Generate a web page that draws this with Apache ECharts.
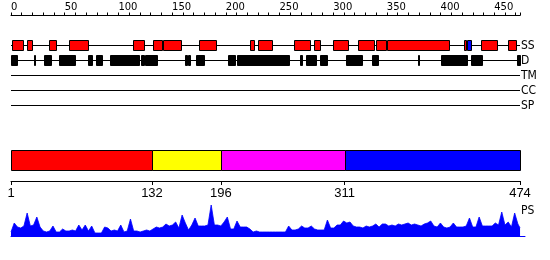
<!DOCTYPE html>
<html><head><meta charset="utf-8">
<script src="https://cdn.jsdelivr.net/npm/echarts@6/dist/echarts.min.js"></script>
<style>html,body{margin:0;padding:0;background:#fff}#c{width:550px;height:260px}</style>
</head><body><div id="c"></div><script>
const seqLength = 474;
const rowNames = ['SS', 'D', 'TM', 'CC', 'SP'];
const helix = [[1,11],[15,20],[35,42],[54,72],[114,124],[132,141],[142,158],[175,191],[223,226],[230,243],[264,278],[282,288],[300,314],[323,338],[340,349],[350,408],[422,424],[438,453],[463,470]];
const strand = [[425,428]];
const disorder = [[0,6],[21,22],[31,37],[45,60],[72,75],[79,85],[92,119],[121,124],[125,136],[162,164],[165,167],[172,180],[202,209],[210,259],[269,271],[275,284],[288,294],[312,327],[336,342],[379,380],[400,425],[428,439],[471,474]];
const domainBounds = [1, 132, 196, 311, 474];
const psStep = 3;
const psValues = [4,13,9,8,10,23,10,11,19,9,5,4,5,10,4,4,7,5,5,6,5,11,6,11,5,10,3,3,3,9,8,5,6,5,11,4,5,17,5,5,4,5,6,5,7,9,8,9,12,10,11,14,8,21,13,6,11,18,10,10,10,11,31,11,11,10,14,19,7,7,15,9,9,9,7,4,5,4,4,4,4,4,4,4,4,4,10,6,6,7,10,8,8,10,7,6,6,6,16,8,8,11,11,15,13,14,10,9,9,8,10,9,10,12,9,12,12,10,11,10,12,11,12,13,11,12,11,10,12,13,15,10,9,13,9,8,9,13,9,9,9,10,18,9,9,19,10,10,10,10,13,11,24,11,14,9,23,12,8];

const domainColors = ['#ff0000', '#ffff00', '#ff00ff', '#0000ff'];
const chart = echarts.init(document.getElementById('c'), null, {renderer: 'canvas'});

function boxRenderer(row, h, fill) {
  return function (params, api) {
    const s = api.coord([api.value(0), row]);
    const e = api.coord([api.value(1), row]);
    const x0 = Math.round(s[0]) + 0.5, x1 = Math.round(e[0]) + 0.5;
    return {type: 'rect', shape: {x: x0, y: Math.floor(s[1] - h / 2) + 0.5, width: Math.max(1, x1 - x0), height: h},
      style: {fill: fill, stroke: '#000', lineWidth: 1}};
  };
}

const rowLines = rowNames.map((n, r) => ({
  type: 'line', xAxisIndex: 0, yAxisIndex: 0, data: [[0, r], [seqLength, r]], symbol: 'none', silent: true,
  lineStyle: {color: '#000', width: 1}, z: 1,
  endLabel: {show: true, formatter: n, color: '#000', fontSize: 12, fontFamily: 'DejaVu Sans Condensed', distance: 1}
}));

const domainData = domainBounds.slice(0, -1).map((b, i) => [b, domainBounds[i + 1], i]);

chart.setOption({
  animation: false,
  grid: [
    {left: 11, right: 30, top: 15.5, height: 105},
    {left: 11, right: 30, top: 150, height: 20},
    {left: 11, right: 25, top: 204, height: 32}
  ],
  xAxis: [
    {gridIndex: 0, type: 'value', position: 'top', min: 0, max: seqLength, interval: 10,
      splitLine: {show: false}, axisLine: {onZero: false, lineStyle: {color: '#000', width: 1}},
      axisTick: {length: 3, lineStyle: {color: '#000'}},
      axisLabel: {color: '#000', fontSize: 10, fontFamily: 'DejaVu Sans', align: 'left', margin: 3,
        formatter: v => (v % 50 === 0 ? String(v) : '')}},
    {gridIndex: 1, type: 'value', position: 'bottom', min: 1, max: seqLength, offset: 11,
      splitLine: {show: false}, axisLine: {onZero: false, lineStyle: {color: '#000', width: 1}},
      axisTick: {length: 4, customValues: domainBounds, lineStyle: {color: '#000'}},
      axisLabel: {color: '#000', fontSize: 13, fontFamily: 'Liberation Sans', margin: 6, customValues: domainBounds}},
    {gridIndex: 2, type: 'value', min: 1, max: 478.6, show: true,
      splitLine: {show: false}, axisLine: {onZero: false, lineStyle: {color: '#0000ff', width: 1}},
      axisTick: {show: false}, axisLabel: {show: false}}
  ],
  yAxis: [
    {gridIndex: 0, type: 'value', min: -2, max: 5, inverse: true, show: false},
    {gridIndex: 1, type: 'value', min: 0, max: 1, show: false},
    {gridIndex: 2, type: 'value', min: 0, max: 32, show: false}
  ],
  series: [
    ...rowLines,
    {type: 'custom', xAxisIndex: 0, yAxisIndex: 0, data: helix, renderItem: boxRenderer(0, 10, '#ff0000'), z: 3},
    {type: 'custom', xAxisIndex: 0, yAxisIndex: 0, data: strand, renderItem: boxRenderer(0, 10, '#0000ff'), z: 3},
    {type: 'custom', xAxisIndex: 0, yAxisIndex: 0, data: disorder, renderItem: boxRenderer(1, 10, '#000000'), z: 3},
    {type: 'custom', xAxisIndex: 1, yAxisIndex: 1, data: domainData, z: 3,
      renderItem: function (params, api) {
        const a = api.coord([api.value(0), 1]);
        const b = api.coord([api.value(1), 0]);
        const x0 = Math.round(a[0]) + 0.5, x1 = Math.round(b[0]) + 0.5;
        return {type: 'rect', shape: {x: x0, y: Math.round(a[1]) + 0.5, width: x1 - x0, height: Math.round(b[1] - a[1])},
          style: {fill: domainColors[api.value(2)], stroke: '#000', lineWidth: 1}};
      }},
    {type: 'line', xAxisIndex: 2, yAxisIndex: 2, symbol: 'none', silent: true,
      data: psValues.map((v, i) => [Math.min(1 + i * psStep, seqLength), v]),
      lineStyle: {color: '#0000ff', width: 0.8}, areaStyle: {color: '#0000ff', opacity: 1}}
  ],
  graphic: [
    {type: 'text', left: 521, top: 205, style: {text: 'PS', fill: '#000', fontSize: 12, fontFamily: 'DejaVu Sans Condensed'}}
  ]
});
</script></body></html>
